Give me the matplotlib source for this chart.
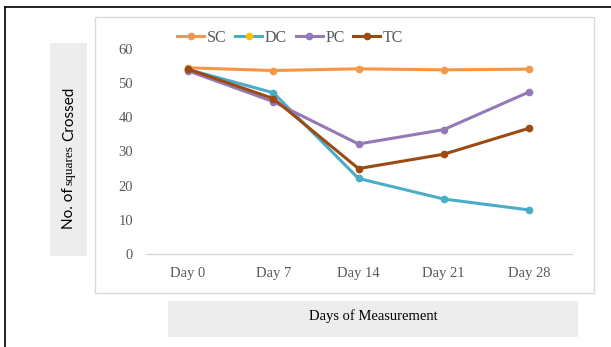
import matplotlib.pyplot as plt
from matplotlib.patches import Rectangle
from matplotlib.lines import Line2D

days = ["Day 0", "Day 7", "Day 14", "Day 21", "Day 28"]
sc = [54.5, 53.7, 54.2, 53.9, 54.1]
dc = [54.0, 47.2, 22.1, 16.1, 12.9]
pc = [53.6, 44.6, 32.2, 36.4, 47.4]
tc = [54.1, 45.5, 25.0, 29.2, 36.8]
yticks = [0, 10, 20, 30, 40, 50, 60]

W, H = 611, 347
fig = plt.figure(figsize=(W / 100, H / 100), dpi=100)

def fx(px):
    return px / W

def fy(py):
    return 1 - py / H

# outer black frame (left and top edges visible)
fig.add_artist(Line2D([fx(5), fx(5)], [fy(7), 0], color="black", lw=1.2))
fig.add_artist(Line2D([fx(5), 1], [fy(7), fy(7)], color="black", lw=1.2))

# chart frame
fig.add_artist(Rectangle((fx(95), fy(293)), fx(594) - fx(95), fy(17) - fy(293),
                         transform=fig.transFigure, fill=False, ec="#D9D9D9", lw=1.0))
# grey title boxes
fig.add_artist(Rectangle((fx(50), fy(256)), fx(87) - fx(50), fy(43) - fy(256),
                         transform=fig.transFigure, fc="#EDEDED", ec="none"))
fig.add_artist(Rectangle((fx(168), fy(337)), fx(578) - fx(168), fy(301) - fy(337),
                         transform=fig.transFigure, fc="#EDEDED", ec="none"))

ax = fig.add_axes([fx(145.5), fy(254), fx(571.5) - fx(145.5), fy(49) - fy(254)])
ax.patch.set_alpha(0)
x = list(range(len(days)))
series = [("SC", sc, "#F79646"), ("DC", dc, "#4BACC6"),
          ("PC", pc, "#9479B8"), ("TC", tc, "#9C4A12")]
handles = []
for name, vals, col in series:
    ax.plot(x, vals, color=col, lw=2.2, marker="o", ms=4.5, solid_capstyle="round")
    mfc = "#FFC000" if name == "DC" else col
    handles.append(Line2D([], [], color=col, lw=2.2, marker="o", ms=4.5,
                          markerfacecolor=mfc, markeredgecolor=mfc, label=name))

ax.set_xlim(-0.5, 4.5)
ax.set_ylim(0, 60)
ax.set_yticks(yticks)
ax.set_xticks(x)
ax.set_xticklabels(days)
for s in ["top", "right", "left"]:
    ax.spines[s].set_visible(False)
ax.spines["bottom"].set_color("#D9D9D9")
ax.spines["bottom"].set_linewidth(1.0)
ax.tick_params(length=0, labelcolor="#595959", labelsize=10.5)
ax.tick_params(axis="x", pad=9)
ax.tick_params(axis="y", pad=9)
for lab in ax.get_xticklabels() + ax.get_yticklabels():
    lab.set_fontfamily("Liberation Serif")

fig.legend(handles=handles, loc="center left", bbox_to_anchor=(fx(166), fy(38)),
           ncol=4, frameon=False, handlelength=1.7, handletextpad=0.15,
           columnspacing=0.55, borderpad=0.2,
           prop={"family": "Liberation Serif", "size": 11.5})
for t in fig.legends[0].get_texts():
    t.set_color("#595959")

# y title, mixed fonts like the original
ykw = dict(rotation=90, ha="center", va="baseline", rotation_mode="anchor", color="black")
fig.text(fx(73), fy(208), "No. of", family="Lato", fontsize=11, **ykw)
fig.text(fx(73), fy(165), "squares", family="Liberation Serif", fontsize=9.5, **ykw)
fig.text(fx(73), fy(114), "Crossed", family="Lato", fontsize=11, **ykw)

fig.text(fx(373), fy(316), "Days of Measurement", ha="center", va="center",
         family="Liberation Serif", fontsize=10.5, color="black")

fig.savefig("out.png", dpi=100)
